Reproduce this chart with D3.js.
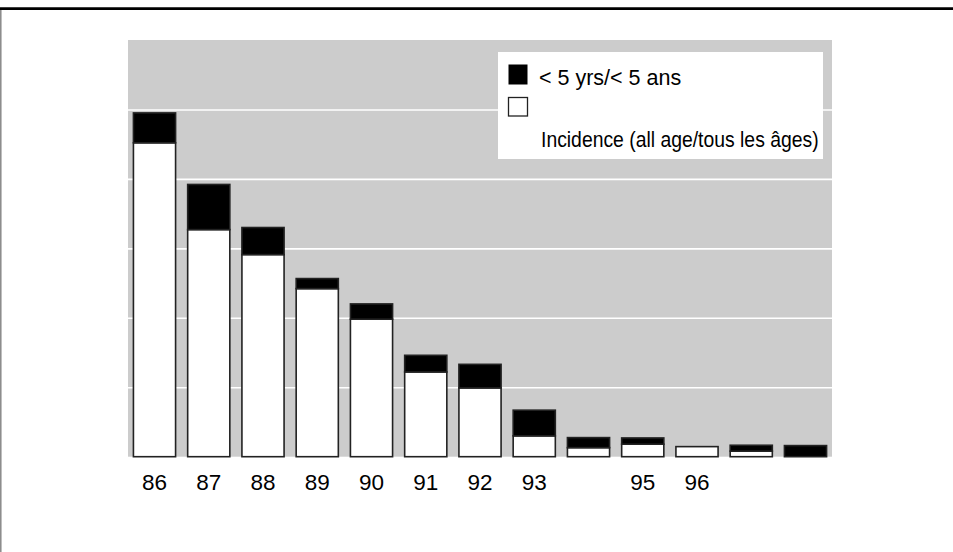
<!DOCTYPE html>
<html>
<head>
<meta charset="utf-8">
<script src="https://cdn.jsdelivr.net/npm/d3@7"></script>
<style>
  body { margin: 0; background: #fff; }
  svg { display: block; }
  .lbl { font-family: "Liberation Sans", Arial, Helvetica, sans-serif; fill: #000; }
</style>
</head>
<body>
<div id="chart"></div>
<script>
// years (86 -> 98), only some of them carry a label under the bar
var years = ["86","87","88","89","90","91","92","93","94","95","96","97","98"];
var tickLabels = ["86","87","88","89","90","91","92","93","","95","96","",""];

// white part: incidence (all ages), black part stacked on top: < 5 yrs
var allAges = [4.52, 3.27, 2.91, 2.42, 1.98, 1.22, 0.99, 0.30, 0.13, 0.18, 0.145, 0.08, 0];
var under5  = [0.43, 0.65, 0.39, 0.145, 0.22, 0.24, 0.34, 0.37, 0.145, 0.09, 0, 0.085, 0.16];

var gridValues = [1, 2, 3, 4, 5];
var legendLabels = ["< 5 yrs/< 5 ans", "Incidence (all age/tous les âges)"];

var W = 953, H = 552;
var margin = {top: 40, left: 128, right: 121, bottom: 95.3};
var width = W - margin.left - margin.right,
    height = H - margin.top - margin.bottom;

var svg = d3.select("#chart").append("svg")
	.attr("width", W).attr("height", H);

// frame lines
svg.append("line").attr("x1", 0).attr("x2", W).attr("y1", 8.7).attr("y2", 8.7)
	.attr("stroke", "#000").attr("stroke-width", 2.7);
svg.append("line").attr("x1", 0.8).attr("x2", 0.8).attr("y1", 10).attr("y2", H)
	.attr("stroke", "#888").attr("stroke-width", 1.5);

var g = svg.append("g").attr("transform", "translate(" + margin.left + "," + margin.top + ")");

var x = d3.scaleBand().domain(years).range([0, width]).paddingInner(0.223).paddingOuter(0.1);
var y = d3.scaleLinear().domain([0, 6]).range([height, 0]);

g.append("rect").attr("width", width).attr("height", height).attr("fill", "#cccccc");

// white gridlines
var grid = g.append("g").attr("class", "grid")
	.call(d3.axisLeft(y).tickValues(gridValues).tickSize(-width).tickFormat(""));
grid.select(".domain").remove();
grid.selectAll("line").attr("stroke", "#fff").attr("stroke-width", 1.6);

var rows = years.map(function(yr, i) { return {year: yr, all: allAges[i], u5: under5[i]}; });

var bars = g.append("g").selectAll("g.bar").data(rows).enter().append("g").attr("class", "bar");

bars.filter(d => d.all > 0).append("rect")
	.attr("x", d => x(d.year))
	.attr("width", x.bandwidth())
	.attr("y", d => y(d.all))
	.attr("height", d => y(0) - y(d.all))
	.attr("fill", "#fff").attr("stroke", "#222").attr("stroke-width", 1.6);

bars.filter(d => d.u5 > 0).append("rect")
	.attr("x", d => x(d.year))
	.attr("width", x.bandwidth())
	.attr("y", d => y(d.all + d.u5))
	.attr("height", d => y(d.all) - y(d.all + d.u5))
	.attr("fill", "#000").attr("stroke", "#222").attr("stroke-width", 1.6);

// year labels
var xAxis = g.append("g").attr("transform", "translate(0," + height + ")")
	.call(d3.axisBottom(x).tickSize(0).tickFormat((d, i) => tickLabels[i]));
xAxis.select(".domain").remove();
xAxis.selectAll("text")
	.attr("class", "lbl")
	.attr("y", 33).attr("dy", null)
	.style("font-size", "22.5px");

// legend
var lg = svg.append("g").attr("transform", "translate(498,52)");
lg.append("rect").attr("width", 325).attr("height", 107).attr("fill", "#fff");
lg.append("rect").attr("x", 10.5).attr("y", 12.5).attr("width", 19).attr("height", 20)
	.attr("fill", "#000");
lg.append("rect").attr("x", 10.5).attr("y", 45.5).attr("width", 19).attr("height", 18.5)
	.attr("fill", "#fff").attr("stroke", "#222").attr("stroke-width", 1.3);
lg.append("text").attr("class", "lbl")
	.attr("transform", "translate(41,33)")
	.style("font-size", "21.5px").text(legendLabels[0]);
lg.append("text").attr("class", "lbl")
	.attr("transform", "translate(43,95) scale(0.88,1)")
	.style("font-size", "22px").text(legendLabels[1]);
</script>
</body>
</html>
